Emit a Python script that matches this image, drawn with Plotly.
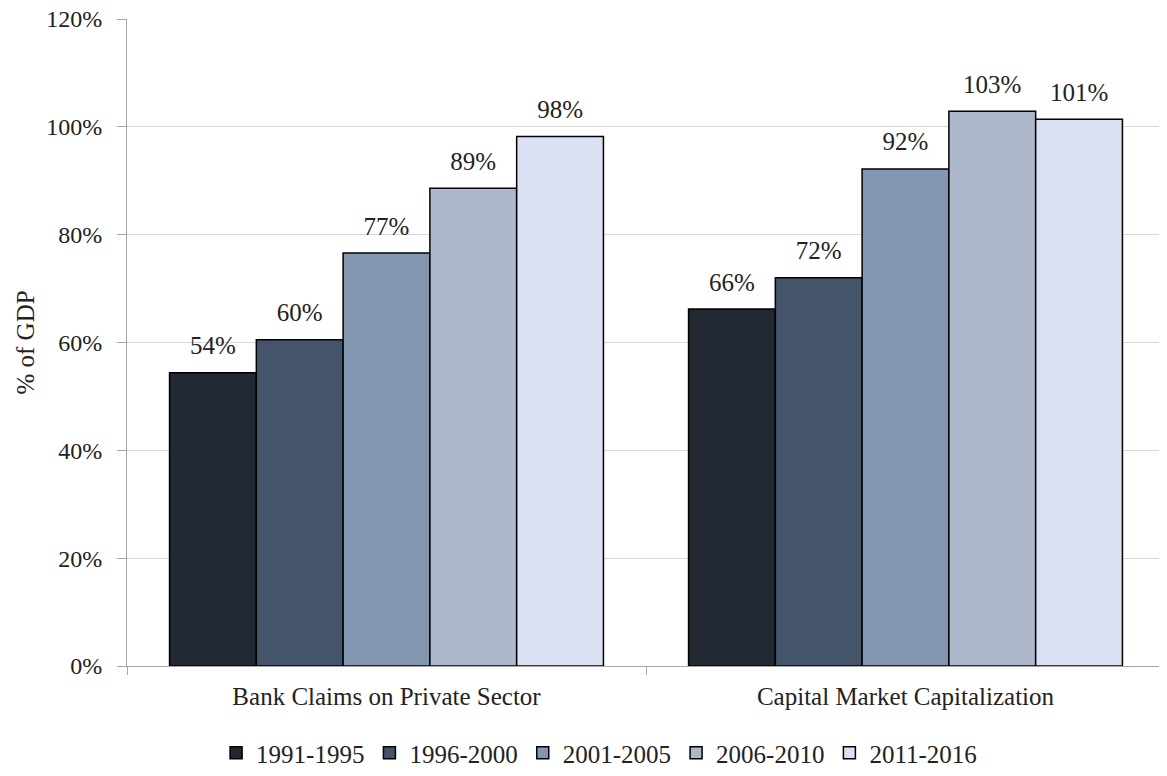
import plotly.graph_objects as go

# categories and series
categories = ['Bank Claims on Private Sector', 'Capital Market Capitalization']
periods = ['1991-1995', '1996-2000', '2001-2005', '2006-2010', '2011-2016']
values = {
    '1991-1995': [54.4, 66.2],
    '1996-2000': [60.5, 72.0],
    '2001-2005': [76.6, 92.2],
    '2006-2010': [88.6, 102.9],
    '2011-2016': [98.2, 101.4],
}
colors = ['#222933', '#44546A', '#8497B0', '#ADB9CA', '#D9E1F2']

font_family = 'Liberation Serif, DejaVu Serif, serif'
gap = 0.164

fig = go.Figure()
for p, c in zip(periods, colors):
    fig.add_trace(go.Bar(
        name=p, x=categories, y=values[p],
        marker=dict(color=c, line=dict(color='black', width=1.5)),
        hoverinfo='x+y',
    ))

# data labels floating a bit above each bar
for p in periods:
    v = values[p]
    fig.add_trace(go.Scatter(
        x=categories, y=v, mode='markers+text',
        text=[f'{round(x):.0f}%' for x in v],
        textposition='top center',
        textfont=dict(size=25, color='#222'),
        marker=dict(size=18, opacity=0),
        showlegend=False, hoverinfo='skip', cliponaxis=False,
    ))

# the page body adds an 8px margin, so keep the figure 8px smaller
fig.update_layout(
    width=1159, height=768,
    barmode='group', bargap=gap, bargroupgap=0,
    scattermode='group', scattergap=gap,
    plot_bgcolor='white', paper_bgcolor='white',
    font=dict(family=font_family, size=24, color='#222'),
    margin=dict(l=119, r=2, t=11, b=110, autoexpand=False),
    legend=dict(orientation='h', xref='container', x=0.51, xanchor='center',
                y=-0.099, yanchor='top',
                font=dict(size=25), itemwidth=30,
                traceorder='normal'),
)
fig.update_yaxes(
    range=[0, 120], dtick=20, ticksuffix='%',
    tickfont=dict(size=24), ticklabelstandoff=10, ticklabeloverflow='allow',
    showgrid=True, gridcolor='#D9D9D9', gridwidth=1,
    showline=True, linecolor='#A6A6A6', linewidth=1,
    ticks='outside', ticklen=9, tickcolor='#A6A6A6',
    title=dict(text='% of GDP', font=dict(size=25), standoff=4),
    zeroline=False, automargin=False,
)
fig.update_xaxes(
    tickfont=dict(size=25), ticklabelstandoff=8,
    showline=True, linecolor='#A6A6A6', linewidth=1,
    ticks='outside', ticklen=8, tickcolor='#A6A6A6', tickson='boundaries',
    automargin=False,
)

fig.write_html('out.html')
